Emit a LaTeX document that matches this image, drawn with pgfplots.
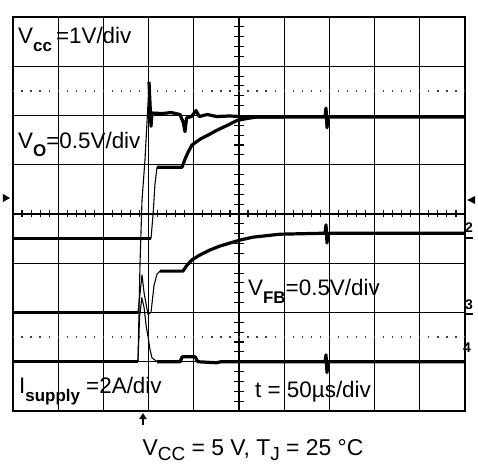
\documentclass[border=0pt]{standalone}
\usepackage{pgfplots}
\pgfplotsset{compat=1.18}
\usepackage{fontspec}
\setmainfont{Liberation Sans}
\usetikzlibrary{arrows.meta}
\newcommand{\lbl}{\fontsize{22.5}{27}\selectfont}
\newcommand{\sub}[1]{\raisebox{-8bp}{\fontsize{17}{20}\selectfont\bfseries #1}}
\begin{document}
\begin{tikzpicture}
\useasboundingbox (-13bp,-55bp) rectangle (465bp,411bp);
\begin{axis}[at={(0,0)},anchor=south west,scale only axis,
  width=452bp,height=394bp,
  xmin=0,xmax=10,ymin=0,ymax=8,
  xtick={0,...,10},ytick={0,...,8},
  xticklabels={},yticklabels={},
  tick style={draw=none},
  grid=major,
  major grid style={black,line width=1.2bp},
  axis line style={black,line width=1.6bp},
  clip=false,
  thk/.style={black,line width=3.2bp,line join=round,no marks},
  thn/.style={black,line width=1.1bp,line join=round,no marks}]
% dotted reference lines
\draw[black!75,line width=1.4bp,dash pattern=on 1.3bp off 7.74bp,dash phase=0.65bp] (axis cs:0,6.5) -- (axis cs:10,6.5);
\draw[black!75,line width=1.4bp,dash pattern=on 1.3bp off 7.74bp,dash phase=0.65bp] (axis cs:0,1.5) -- (axis cs:10,1.5);
% Channel 4: I supply
\addplot[thk] coordinates {(0,1.0) (2.765,1.0)};
\addplot[thn] coordinates {(2.765,1.0) (2.80,1.9) (2.85,2.3) (2.90,2.1) (2.95,1.7) (2.99,1.5) (3.03,1.25) (3.075,1.08) (3.19,1.0)};
\addplot[thk] coordinates {(3.19,1.0) (3.70,1.0) (3.74,1.10) (4.03,1.10) (4.09,1.0) (4.5,0.98) (4.6,1.0) (6.903,1.0) (6.925,1.14) (6.947,0.78) (6.969,1.0) (10,1.0)};
% Channel 3: V_FB
\addplot[thk] coordinates {(0,2.0) (2.765,2.0)};
\addplot[thn] coordinates {(2.765,2.0) (2.854,2.76) (2.90,2.40) (2.987,1.96) (3.053,2.0) (3.12,2.55) (3.186,2.78) (3.252,2.84)};
\addplot[thk] coordinates {(3.252,2.84) (3.76,2.84) (3.85,2.96) (3.96,3.07) (4.14,3.17) (4.36,3.27) (4.58,3.35) (4.80,3.41) (5.02,3.47) (5.31,3.53) (5.91,3.59) (6.903,3.61) (6.925,3.78) (6.947,3.41) (6.969,3.61) (10,3.61)};
% Channel 2: Vo
\addplot[thk] coordinates {(0,3.5) (3.053,3.5)};
\addplot[thn] coordinates {(3.053,3.5) (3.10,4.0) (3.14,4.6) (3.186,4.95)};
\addplot[thk] coordinates {(3.186,4.95) (3.74,4.95) (3.80,5.10) (3.87,5.25) (3.96,5.40) (4.14,5.52) (4.31,5.60) (4.51,5.70) (4.74,5.80) (4.96,5.90) (5.18,5.94) (5.40,5.97) (6.0,5.97)};
% Channel 1: Vcc
\addplot[thn] coordinates {(2.765,1.0) (2.81,3.0) (2.854,4.28) (2.92,5.10) (2.99,6.3) (3.009,6.68)};
\addplot[thk] coordinates {(3.009,6.68) (3.031,6.25) (3.053,5.78) (3.075,6.05) (3.3,6.04) (3.5,6.06) (3.695,6.02) (3.77,5.85) (3.805,5.67) (3.84,5.95) (3.95,5.98) (4.05,6.10) (4.12,5.98) (4.3,6.02) (4.5,5.98) (4.8,5.99) (5.2,5.97) (6.0,5.97) (6.903,5.97) (6.925,6.15) (6.947,5.75) (6.969,5.97) (8,5.97) (10,5.97)};
% labels
\node[anchor=base west,inner sep=0pt] at (axis cs:0.111,7.472) {\lbl V\sub{cc}\hspace{4bp}=1V/div};
\node[anchor=base west,inner sep=0pt] at (axis cs:0.111,5.320) {\lbl V\sub{O}=0.5V/div};
\node[anchor=base west,inner sep=0pt] at (axis cs:5.199,2.355) {\lbl V\sub{FB}=0.5V/div};
\node[anchor=base west,inner sep=0pt] at (axis cs:0.133,0.365) {\lbl I\sub{supply} =2A/div};
\node[anchor=base west,inner sep=0pt] at (axis cs:5.354,0.284) {\lbl t = 50µs/div};
\end{axis}
% center graticule minor ticks
\foreach \k in {1,...,49} {\draw[line width=1.1bp] (\k*9.04bp,193.5bp) -- (\k*9.04bp,200.5bp);}
\foreach \k in {1,...,39} {\draw[line width=1.1bp] (221bp,\k*9.85bp) -- (231bp,\k*9.85bp);}
% channel markers
\fill (-10bp,217bp) -- (-3bp,213bp) -- (-10bp,209bp) -- cycle;
\fill (462bp,215bp) -- (454bp,211bp) -- (462bp,207bp) -- cycle;
\node[anchor=base west,inner sep=0pt,font=\fontsize{14}{16}\selectfont\bfseries] at (452bp,178bp) {2};
\draw[line width=1.2bp] (453bp,173bp) -- (460bp,173bp);
\node[anchor=base west,inner sep=0pt,font=\fontsize{14}{16}\selectfont\bfseries] at (452bp,101bp) {3};
\draw[line width=1.2bp] (453bp,97bp) -- (460bp,97bp);
\node[anchor=base west,inner sep=0pt,font=\fontsize{14}{16}\selectfont\bfseries] at (450bp,58bp) {4};
% trigger arrow
\draw[line width=1.8bp,-{Triangle[width=7bp,length=6bp]}] (130bp,-14bp) -- (130bp,-2bp);
% caption
\node[anchor=base,inner sep=0pt] at (240bp,-44bp) {\fontsize{23}{27}\selectfont V\raisebox{-5bp}{\fontsize{19}{20}\selectfont CC} = 5 V, T\raisebox{-5bp}{\fontsize{19}{20}\selectfont J} = 25 °C};
\end{tikzpicture}
\end{document}
